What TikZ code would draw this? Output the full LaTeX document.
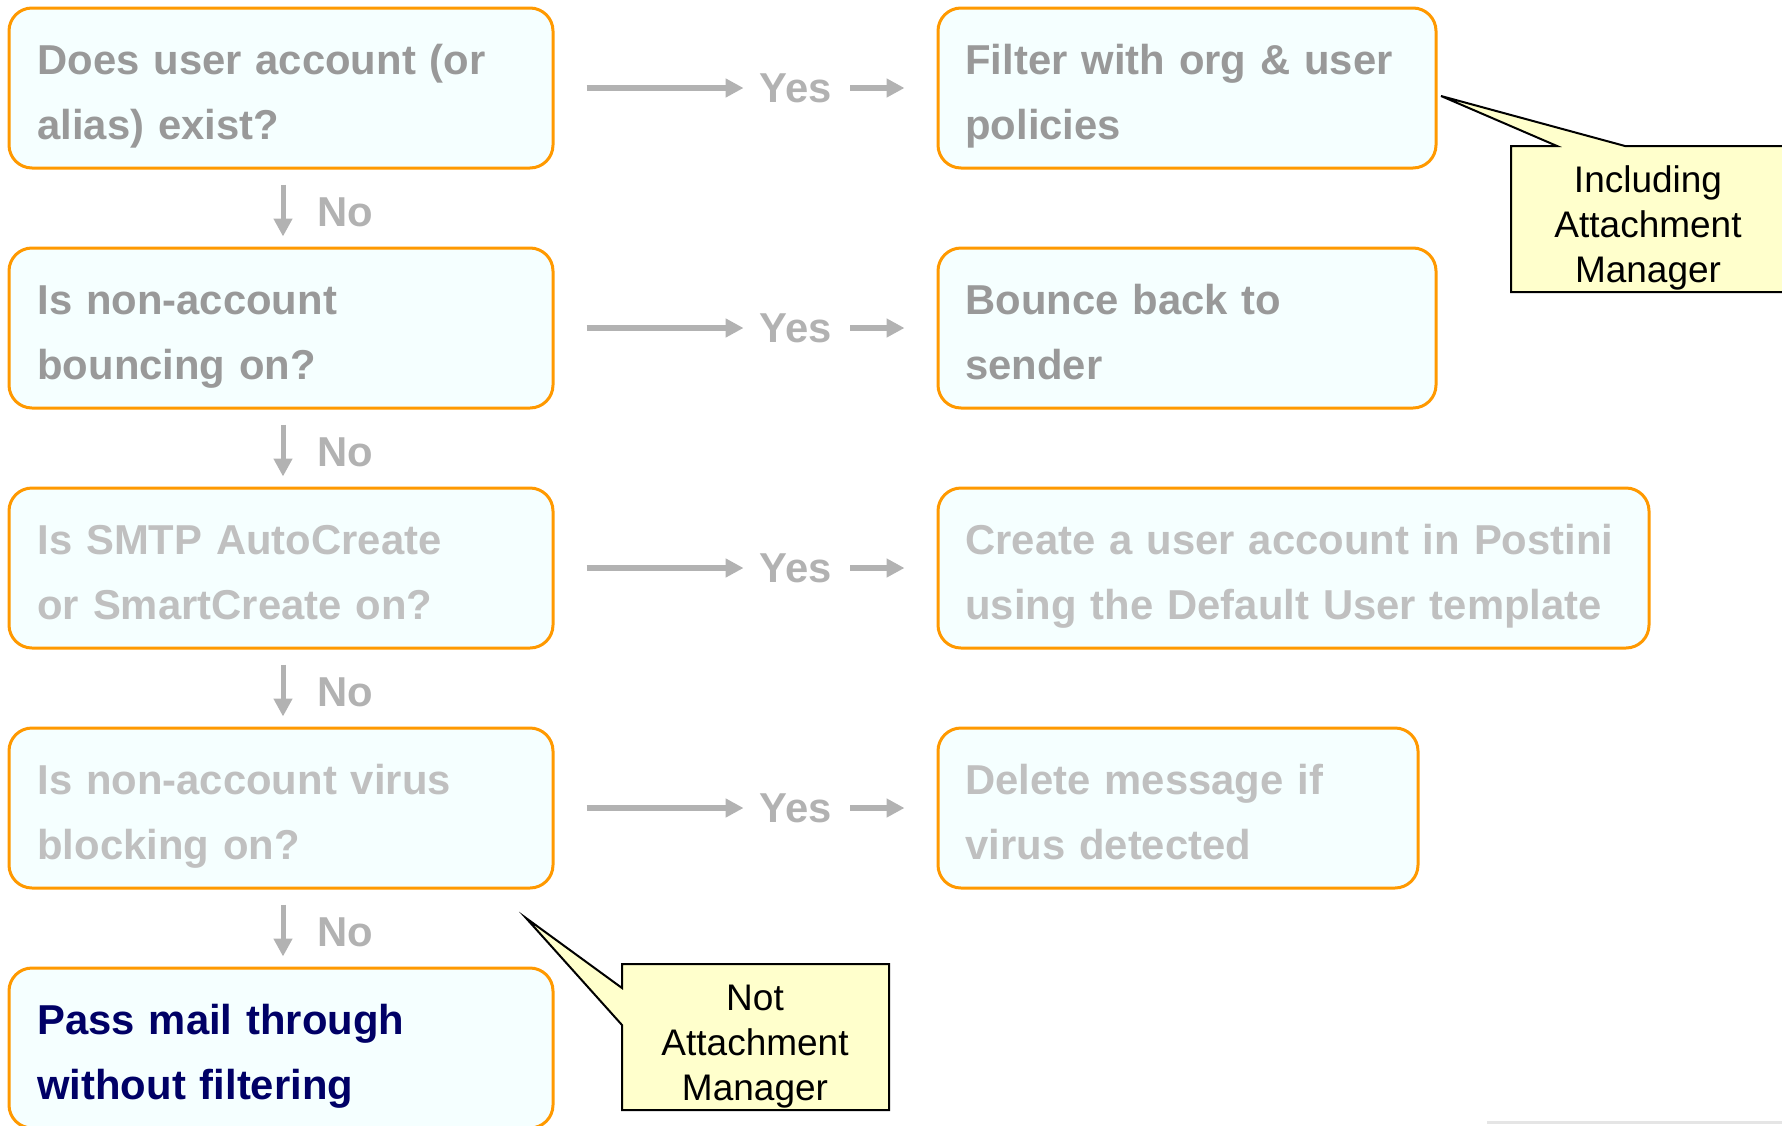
\documentclass[tikz,border=0pt]{standalone}
\usepackage{fontspec}
\setmainfont{Liberation Sans}
\usetikzlibrary{arrows.meta}
\definecolor{boxfill}{HTML}{F5FFFF}
\definecolor{boxline}{HTML}{FF9900}
\definecolor{darkq}{HTML}{999999}
\definecolor{lightq}{HTML}{C0C0C0}
\definecolor{arrowgray}{HTML}{B2B2B2}
\definecolor{navytext}{HTML}{000066}
\definecolor{notefill}{HTML}{FFFFCC}
\begin{document}
\begin{tikzpicture}[x=0.5pt,y=-0.5pt,
 box/.style={draw=boxline, fill=boxfill, line width=1.5pt, rounded corners=11.5pt, inner sep=0pt, minimum height=80pt},
 boxtext/.style={font=\bfseries\fontsize{20.9}{32.5}\selectfont, text width=345pt, align=left, inner sep=0pt, anchor=base west},
 flow/.style={draw=arrowgray, line width=3pt, -{Triangle[length=9pt,width=9pt]}},
 down/.style={draw=arrowgray, line width=2.5pt, -{Triangle[length=9pt,width=9pt]}, shorten <=7.5pt, shorten >=5pt},
 lbl/.style={font=\bfseries\fontsize{20.9}{24}\selectfont, text=arrowgray, inner sep=0pt},
 note/.style={draw=black, fill=notefill, line width=1pt},
 notetext/.style={font=\fontsize{18.5}{22.5}\selectfont, align=center, text width=130pt, inner sep=0pt, anchor=base}
]
\useasboundingbox (0,0) rectangle (1782,1125);
\clip (0,0) rectangle (1782,1125);

% question boxes
\node[box, minimum width=272pt] (q1) at (281,88) {};
\node[box, minimum width=272pt] (q2) at (281,328) {};
\node[box, minimum width=272pt] (q3) at (281,568) {};
\node[box, minimum width=272pt] (q4) at (281,808) {};
\node[box, minimum width=272pt] (q5) at (281,1048) {};
% answer boxes
\node[box, minimum width=249pt] (a1) at (1187,88) {};
\node[box, minimum width=249pt] (a2) at (1187,328) {};
\node[box, minimum width=355.5pt] (a3) at (1293.5,568) {};
\node[box, minimum width=240pt] (a4) at (1178,808) {};

% texts
\node[boxtext, text=darkq] (q1t) at (37,74) {Does user account (or\\alias) exist?};
\node[boxtext, text=darkq] (q2t) at (37,314) {Is non-account\\bouncing on?};
\node[boxtext, text=lightq] (q3t) at (37,554) {Is SMTP AutoCreate\\or SmartCreate on?};
\node[boxtext, text=lightq] (q4t) at (37,794) {Is non-account virus\\blocking on?};
\node[boxtext, text=navytext] (q5t) at (37,1034) {Pass mail through\\without filtering};
\node[boxtext, text=darkq] (a1t) at (965,74) {Filter with org \& user\\policies};
\node[boxtext, text=darkq] (a2t) at (965,314) {Bounce back to\\sender};
\node[boxtext, text=lightq] (a3t) at (965,554) {Create a user account in Postini\\using the Default User template};
\node[boxtext, text=lightq] (a4t) at (965,794) {Delete message if\\virus detected};

% Yes labels and arrows
\foreach \i/\y in {1/88,2/328,3/568,4/808}{
  \node[lbl] (y\i) at (796,\y) {Yes};
  \draw[flow, shorten <=16pt, shorten >=8pt] (q\i) -- (y\i);
  \draw[flow, shorten <=9pt, shorten >=16pt] (y\i) -- (a\i);
}

% No arrows
\draw[down] ([xshift=1pt]q1.south) -- node[lbl, midway, anchor=west, xshift=16pt, yshift=-2pt] (n1) {No} ([xshift=1pt]q2.north);
\draw[down] ([xshift=1pt]q2.south) -- node[lbl, midway, anchor=west, xshift=16pt, yshift=-2pt] (n2) {No} ([xshift=1pt]q3.north);
\draw[down] ([xshift=1pt]q3.south) -- node[lbl, midway, anchor=west, xshift=16pt, yshift=-2pt] (n3) {No} ([xshift=1pt]q4.north);
\draw[down] ([xshift=1pt]q4.south) -- node[lbl, midway, anchor=west, xshift=16pt, yshift=-2pt] (n4) {No} ([xshift=1pt]q5.north);

% callouts
\draw[note] (1511,146) -- (1557,146) -- (1441,96) -- (1625,146) -- (1792,146) -- (1792,292) -- (1511,292) -- cycle;
\node[notetext] (c1) at (1648,192) {Including\\Attachment\\Manager};
\draw[note] (622,964) -- (889,964) -- (889,1110) -- (622,1110) -- (622,1025) -- (526,918) -- (622,988) -- cycle;
\node[notetext] (c2) at (755,1010) {Not\\Attachment\\Manager};

% faint edge line
\draw[gray!20, line width=1.5pt] (1487,1122) -- (1782,1122);
\end{tikzpicture}
\end{document}
